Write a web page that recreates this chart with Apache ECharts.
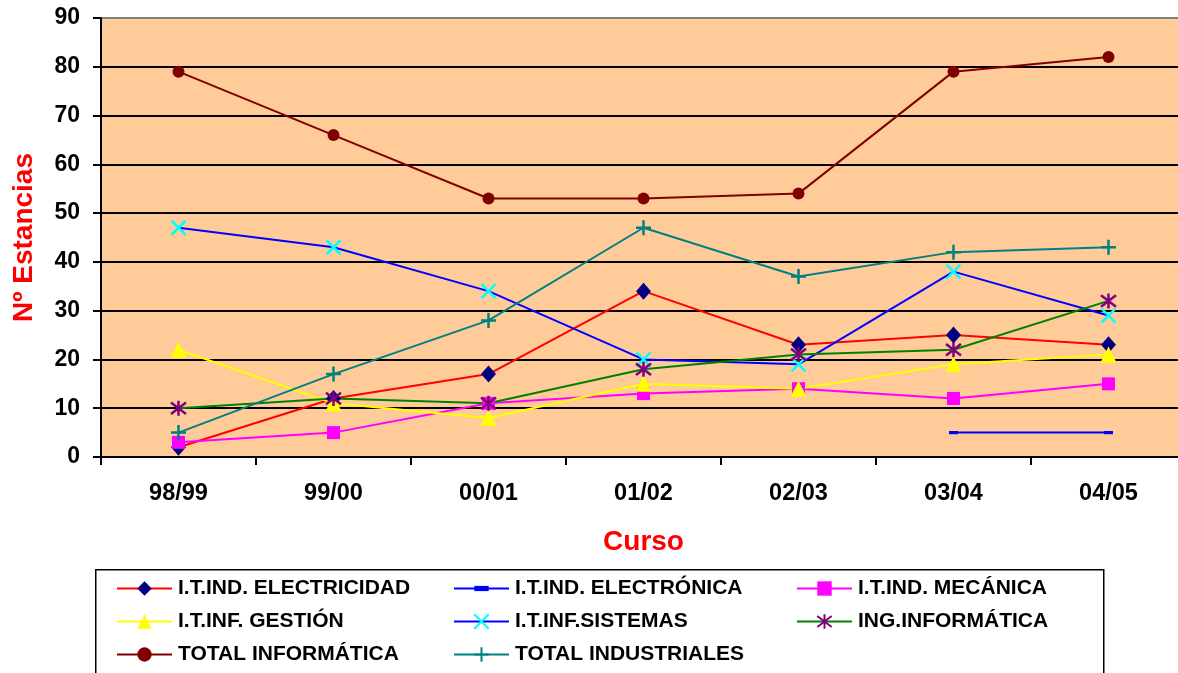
<!DOCTYPE html>
<html>
<head>
<meta charset="utf-8">
<script src="https://cdn.jsdelivr.net/npm/echarts@6/dist/echarts.min.js"></script>
<style>
html,body{margin:0;padding:0;background:#fff;overflow:hidden;width:1178px;height:673px;}
#chart{width:1190px;height:673px;}
</style>
</head>
<body>
<div id="chart"></div>
<script>
var categories = ['98/99','99/00','00/01','01/02','02/03','03/04','04/05'];
var electricidad = [2, 12, 17, 34, 23, 25, 23];
var electronica = [null, null, null, null, null, 5, 5];
var mecanica = [3, 5, 11, 13, 14, 12, 15];
var gestion = [22, 11, 8, 15, 14, 19, 21];
var sistemas = [47, 43, 34, 20, 19, 38, 29];
var ingInformatica = [10, 12, 11, 18, 21, 22, 32];
var totalInformatica = [79, 66, 53, 53, 54, 79, 82];
var totalIndustriales = [5, 17, 28, 47, 37, 42, 43];
var seriesNames = ['I.T.IND. ELECTRICIDAD','I.T.IND. ELECTRÓNICA','I.T.IND. MECÁNICA','I.T.INF. GESTIÓN','I.T.INF.SISTEMAS','ING.INFORMÁTICA','TOTAL INFORMÁTICA','TOTAL INDUSTRIALES'];

var FONT = '"Liberation Sans", Arial, sans-serif';

function mk(name, data, lineColor, symbol, symbolSize, itemStyle){
  return {
    name: name, type: 'line', data: data,
    symbol: symbol, symbolSize: symbolSize,
    showAllSymbol: true, connectNulls: false,
    lineStyle: {color: lineColor, width: 2},
    itemStyle: itemStyle,
    emphasis: {disabled: true},
    animation: false
  };
}

var series = [
  mk(seriesNames[0], electricidad, '#FF0000', 'diamond', [15,17], {color:'#000080'}),
  mk(seriesNames[1], electronica, '#0000FF', 'path://M0,0M0,3.2L10,3.2L10,6.8L0,6.8Z M10,10', 9, {color:'#0000FF'}),
  mk(seriesNames[2], mecanica, '#FF00FF', 'rect', 13, {color:'#FF00FF'}),
  mk(seriesNames[3], gestion, '#FFFF00', 'triangle', 16, {color:'#FFFF00'}),
  mk(seriesNames[4], sistemas, '#0000FF', 'path://M0,0L10,10M10,0L0,10', 14, {color:'#00FFFF', borderColor:'#00FFFF', borderWidth:2.5}),
  mk(seriesNames[5], ingInformatica, '#008000', 'path://M0,0L10,10M10,0L0,10M5,-1.5L5,11.5', 15, {color:'#800080', borderColor:'#800080', borderWidth:2.5}),
  mk(seriesNames[6], totalInformatica, '#800000', 'circle', 12, {color:'#800000'}),
  mk(seriesNames[7], totalIndustriales, '#008080', 'path://M5,0L5,10M0,5L10,5', 15, {color:'#008080', borderColor:'#008080', borderWidth:2.5})
];

var legendPos = [
  [116, 589], [453, 589], [796, 589],
  [116, 622], [453, 622], [796, 622],
  [116, 655], [453, 655]
];
var legends = seriesNames.map(function(n, i){
  return {
    data: [n], left: legendPos[i][0], top: legendPos[i][1] - 11,
    padding: 0, itemWidth: 55, itemHeight: 18, itemGap: 0,
    selectedMode: false,
    textStyle: {fontFamily: FONT, fontSize: 21, fontWeight: 'bold', color: '#000', padding: [0,0,0,1]}
  };
});

var chart = echarts.init(document.getElementById('chart'), null, {renderer: 'canvas'});
chart.setOption({
  backgroundColor: '#ffffff',
  animation: false,
  grid: {
    left: 101, top: 18, right: 4, bottom: 216,
    show: true, backgroundColor: '#FFCC99', borderColor: '#808080', borderWidth: 2
  },
  legend: legends,
  graphic: [{
    type: 'rect', left: 95, top: 569, z: -1,
    shape: {x: 0, y: 0, width: 1008, height: 120},
    style: {fill: '#fff', stroke: '#000', lineWidth: 1.5}
  }],
  xAxis: {
    type: 'category', data: categories, boundaryGap: true,
    name: 'Curso', nameLocation: 'middle', nameGap: 71,
    nameTextStyle: {fontFamily: FONT, fontSize: 28, fontWeight: 'bold', color: '#FF0000'},
    axisLine: {lineStyle: {color: '#000', width: 2}},
    axisTick: {show: true, length: 8, lineStyle: {color: '#000', width: 2}},
    axisLabel: {fontFamily: FONT, fontSize: 23.5, fontWeight: 'bold', color: '#000', margin: 25},
    splitLine: {show: false}
  },
  yAxis: {
    type: 'value', min: 0, max: 90, interval: 10,
    name: 'Nº Estancias', nameLocation: 'middle', nameGap: 63, nameRotate: 90,
    nameTextStyle: {fontFamily: FONT, fontSize: 28, fontWeight: 'bold', color: '#FF0000'},
    axisLine: {show: true, lineStyle: {color: '#000', width: 2}},
    axisTick: {show: true, length: 8, lineStyle: {color: '#000', width: 2}},
    axisLabel: {fontFamily: FONT, fontSize: 23, fontWeight: 'bold', color: '#000', margin: 21},
    splitLine: {show: true, lineStyle: {color: ['#000','#000','#000','#000','#000','#000','#000','#000','#000','#808080'], width: 2}}
  },
  series: series
});
</script>
</body>
</html>
